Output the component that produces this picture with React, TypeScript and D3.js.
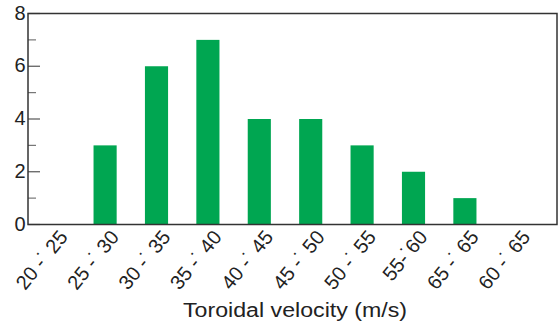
import React from "react";
import * as d3 from "d3";

const categories = [
  "20 -˙ 25",
  "25 -˙ 30",
  "30 -˙ 35",
  "35 -˙ 40",
  "40 -˙ 45",
  "45 -˙ 50",
  "50 -˙ 55",
  "55-˙60",
  "65 -˙ 65",
  "60 -˙ 65",
];
const counts = [0, 3, 6, 7, 4, 4, 3, 2, 1, 0];
const yMajorTicks = [0, 2, 4, 6, 8];
const yMinorTicks = [1, 3, 5, 7];

const W = 560;
const H = 327;
const left = 28;
const right = 557;
const top = 13.5;
const bottom = 224.5;
const font = "'Liberation Sans', Arial, Helvetica, sans-serif";

export default function App() {
  const x = d3
    .scaleBand<string>()
    .domain(categories)
    .range([left, 542])
    .paddingInner(0.55)
    .paddingOuter(0.275);
  const y = d3.scaleLinear().domain([0, 8]).range([bottom, top]);

  return (
    <svg width={W} height={H} style={{ position: "absolute", left: 0, top: 0 }}>
      <rect x={0} y={0} width={W} height={H} fill="#fff" />
      {categories.map((c, i) => (
        <rect
          key={c}
          x={x(c)}
          y={y(counts[i])}
          width={x.bandwidth()}
          height={bottom - y(counts[i])}
          fill="#00a651"
        />
      ))}
      {yMajorTicks.map((t) => (
        <g key={"M" + t}>
          <line x1={left} x2={left + 12} y1={y(t)} y2={y(t)} stroke="#555" strokeWidth={1.2} />
          <text
            x={25.5}
            y={y(t) - 1}
            textAnchor="end"
            dominantBaseline="central"
            fontFamily={font}
            fontSize={20}
            fill="#222"
          >
            {t}
          </text>
        </g>
      ))}
      {yMinorTicks.map((t) => (
        <line key={"m" + t} x1={left} x2={left + 8} y1={y(t)} y2={y(t)} stroke="#777" strokeWidth={1.2} />
      ))}
      <rect x={left} y={top} width={right - left} height={bottom - top} fill="none" stroke="#333" strokeWidth={1.5} />
      {categories.map((c) => {
        const cx = (x(c) as number) + x.bandwidth() / 2;
        return (
          <text
            key={"l" + c}
            transform={`translate(${cx + 9.5},${233}) rotate(-51)`}
            textAnchor="end"
            dominantBaseline="central"
            fontFamily={font}
            fontSize={20}
            fill="#222"
          >
            {c}
          </text>
        );
      })}
      <text
        x={183}
        y={317}
        textLength={224}
        lengthAdjust="spacingAndGlyphs"
        fontFamily={font}
        fontSize={20}
        fill="#222"
      >
        Toroidal velocity (m/s)
      </text>
    </svg>
  );
}
